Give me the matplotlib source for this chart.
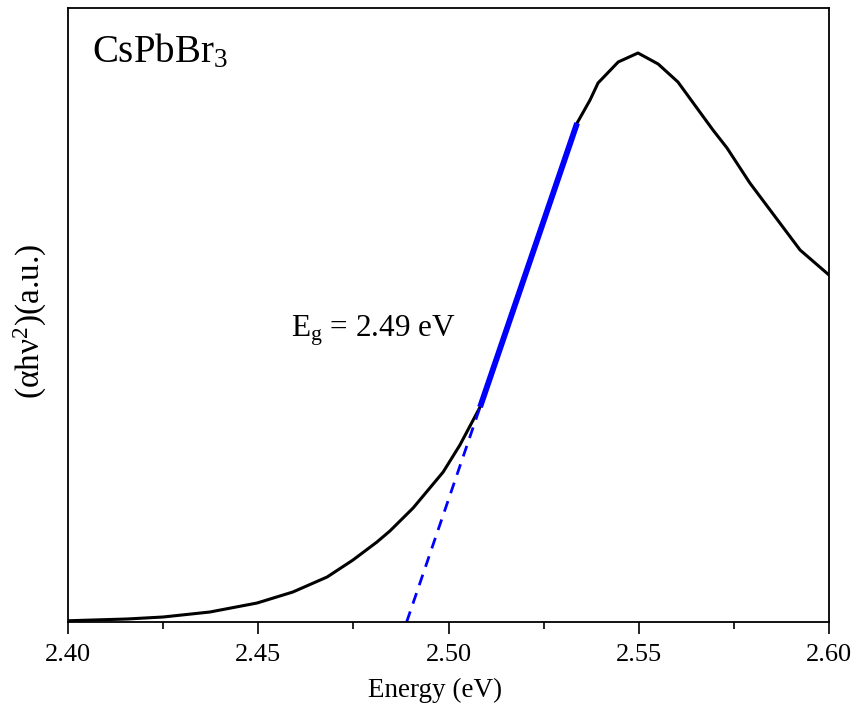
import numpy as np
import matplotlib
matplotlib.use("Agg")
import matplotlib.pyplot as plt
from matplotlib.ticker import MultipleLocator, NullLocator

plt.rcParams['font.family'] = ['Liberation Serif', 'DejaVu Serif']
plt.rcParams['mathtext.fontset'] = 'custom'
plt.rcParams['mathtext.rm'] = 'Liberation Serif'
plt.rcParams['mathtext.it'] = 'Liberation Serif:italic'

# Tauc plot data (a.u.)
energy = [2.4005, 2.4155, 2.4250, 2.4373, 2.4497, 2.4591, 2.4681, 2.4749,
          2.4812, 2.4846, 2.4907, 2.4986, 2.5030, 2.5083, 2.5214, 2.5338,
          2.5372, 2.5393, 2.5446, 2.5498, 2.5551, 2.5603, 2.5695, 2.5732,
          2.5792, 2.5924, 2.6000]
intensity = [1.3, 3, 5, 10, 19, 30, 45, 62,
             80, 91, 114, 150, 177, 215, 362, 499,
             522, 539, 560, 569, 558, 540, 492, 474,
             439, 372, 347]

# Linear fit of the absorption edge
Eg = 2.489
fit_slope = 11137.0
fit_E_range = [2.5083, 2.5338]

xticks = [2.40, 2.45, 2.50, 2.55, 2.60]
xtick_labels = ['2.40', '2.45', '2.50', '2.55', '2.60']

fig = plt.figure(figsize=(8.58, 7.11), dpi=100)
ax = fig.add_axes([68/858, 1 - 622/711, (829-68)/858, (622-8)/711])

ax.plot(energy, intensity, color='black', lw=2.2, solid_joinstyle='round')

fit_x = np.array(fit_E_range)
ax.plot(fit_x, fit_slope * (fit_x - Eg), color='#0000ff', lw=4.2,
        solid_capstyle='butt')
dash_x = np.array([Eg, fit_E_range[0]])
ax.plot(dash_x, fit_slope * (dash_x - Eg), color='#0000ff', lw=2.0,
        linestyle=(0, (4, 3)))

ax.set_xlim(2.40, 2.60)
ax.set_ylim(0, 614)
ax.set_xticks(xticks)
ax.set_xticklabels(xtick_labels)
ax.xaxis.set_minor_locator(MultipleLocator(0.025))
ax.yaxis.set_major_locator(NullLocator())
ax.tick_params(axis='x', which='major', direction='out', length=8.6, width=1.2,
               labelsize=19, pad=7)
ax.tick_params(axis='x', which='minor', direction='out', length=5, width=1.2)
for s in ax.spines.values():
    s.set_linewidth(1.3)

ax.set_xlabel('Energy (eV)', fontsize=19.5, labelpad=9)
ax.xaxis.label.set_x(0.482)
ax.set_ylabel('(αhν$^{\\mathregular{2}}$)(a.u.)', fontsize=24, labelpad=14)
ax.yaxis.label.set_y(0.489)

ax.text(0.0315, 0.912, r'CsPbBr$_{3}$', transform=ax.transAxes, fontsize=28,
        ha='left', va='baseline')
ax.text(2.4586, 622 - 337, r'E$_{\mathrm{g}}$ = 2.49 eV', fontsize=22.5,
        ha='left', va='baseline')

fig.savefig('out.png', dpi=100)
